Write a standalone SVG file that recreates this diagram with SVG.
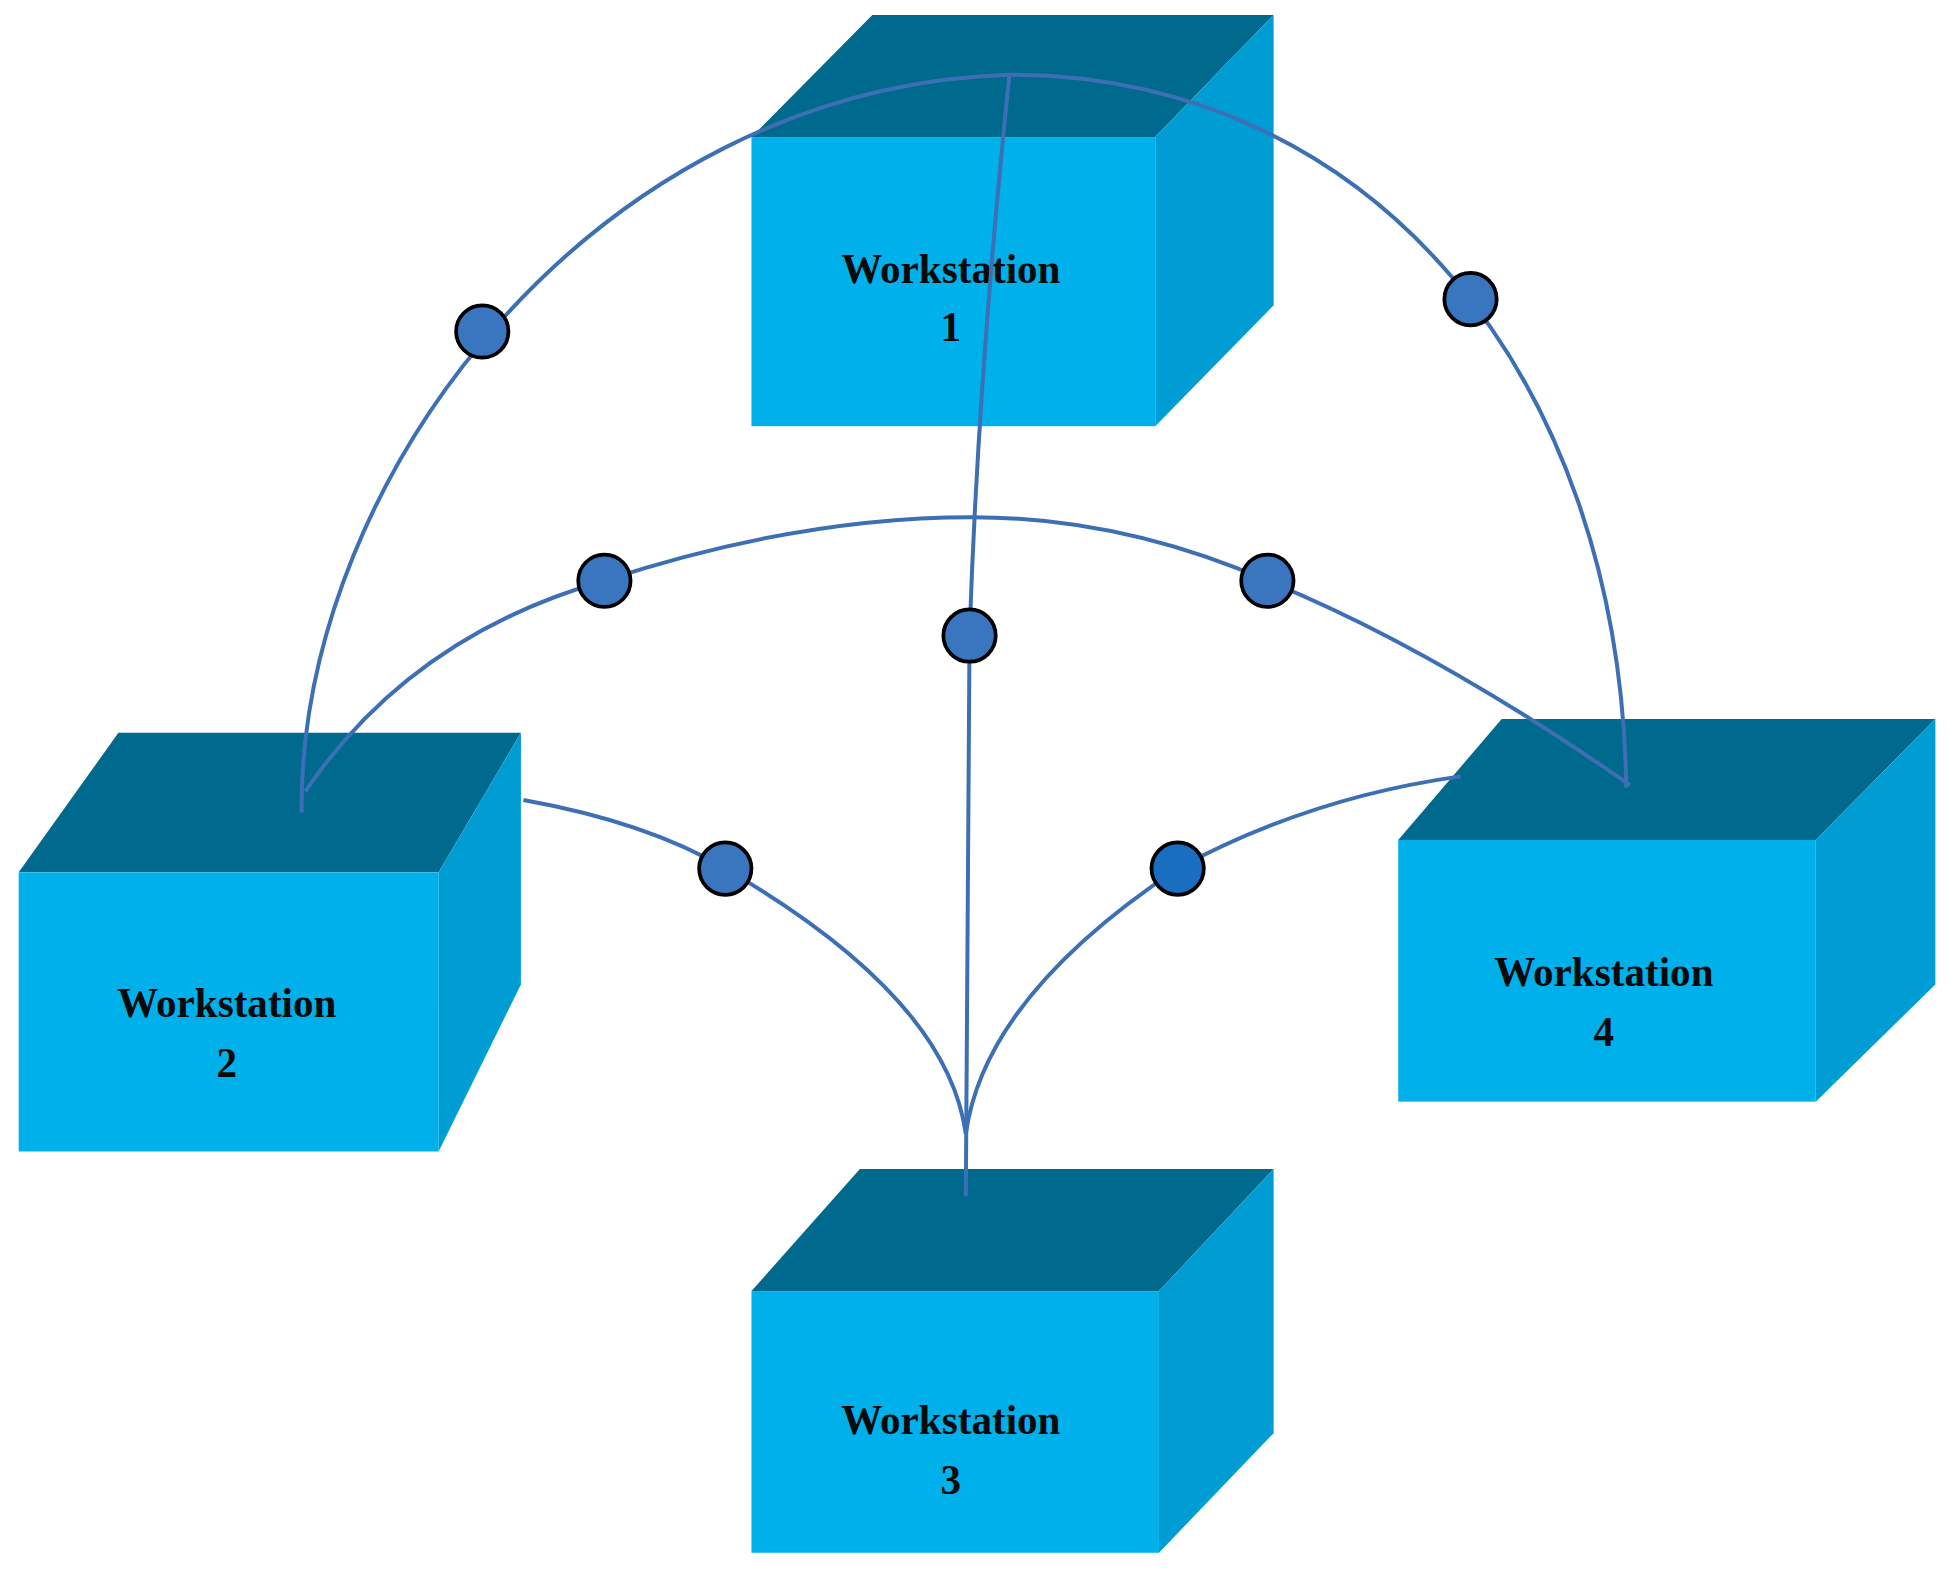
<svg xmlns="http://www.w3.org/2000/svg" width="1954" height="1574" viewBox="0 0 1954 1574">
<style>
.top{fill:#006a8e}.front{fill:#00b0eb}.side{fill:#009dd4}
.ln{fill:none;stroke:#3d6fb5;stroke-width:3.2}
.dot{fill:#3a75bf;stroke:#000;stroke-width:3}
.lbl{font-family:"Liberation Serif",serif;font-weight:bold;font-size:33px;fill:#0a0a0a;text-anchor:middle}
</style>
<rect width="1954" height="1574" fill="#fff"/>
<g transform="scale(1.2462)">
<g id="ws1">
<polygon class="top" points="700,12 1022,12 927,110 603,110"/>
<polygon class="side" points="1022,12 1022,245 927,342 927,110"/>
<rect class="front" x="603" y="110" width="324" height="232"/>
<text class="lbl" x="763" y="227">Workstation</text><text class="lbl" x="763" y="274">1</text>
</g>
<g id="ws2">
<polygon class="top" points="95,588 418,588 352,700 15,700"/>
<polygon class="side" points="418,588 418,790 352,924 352,700"/>
<rect class="front" x="15" y="700" width="337" height="224"/>
<text class="lbl" x="182" y="816">Workstation</text><text class="lbl" x="182" y="864">2</text>
</g>
<g id="ws3">
<polygon class="top" points="690,938 1022,938 930,1036 603,1036"/>
<polygon class="side" points="1022,938 1022,1150 930,1246 930,1036"/>
<rect class="front" x="603" y="1036" width="327" height="210"/>
<text class="lbl" x="763" y="1151">Workstation</text><text class="lbl" x="763" y="1199">3</text>
</g>
<g id="ws4">
<polygon class="top" points="1205,577 1553,577 1457,674 1122,674"/>
<polygon class="side" points="1553,577 1553,790 1457,884 1457,674"/>
<rect class="front" x="1122" y="674" width="335" height="210"/>
<text class="lbl" x="1287" y="791">Workstation</text><text class="lbl" x="1287" y="839">4</text>
</g>
<g id="connectors">
<path class="ln" d="M242,652 C240,380 480,70 810,60 C1100,60 1300,300 1305,632"/>
<path class="ln" d="M810,60 Q785,300 778,510 L775,960"/>
<path class="ln" d="M245,635 Q330,510 485,466 Q640,415 780,415 Q900,415 1017,466 Q1150,520 1308,630"/>
<path class="ln" d="M420,642 Q520,660 582,697 Q760,800 775,910"/>
<path class="ln" d="M1172,623 Q1050,640 945,697 Q790,800 775,910"/>
<circle class="dot" cx="387" cy="266" r="21"/>
<circle class="dot" cx="1180" cy="240" r="21"/>
<circle class="dot" cx="485" cy="466" r="21"/>
<circle class="dot" cx="1017" cy="466" r="21"/>
<circle class="dot" cx="778" cy="510" r="21"/>
<circle class="dot" cx="582" cy="697" r="21"/>
<circle class="dot" cx="945" cy="697" r="21" style="fill:#1a6ec0"/>
</g>
</g>
</svg>
